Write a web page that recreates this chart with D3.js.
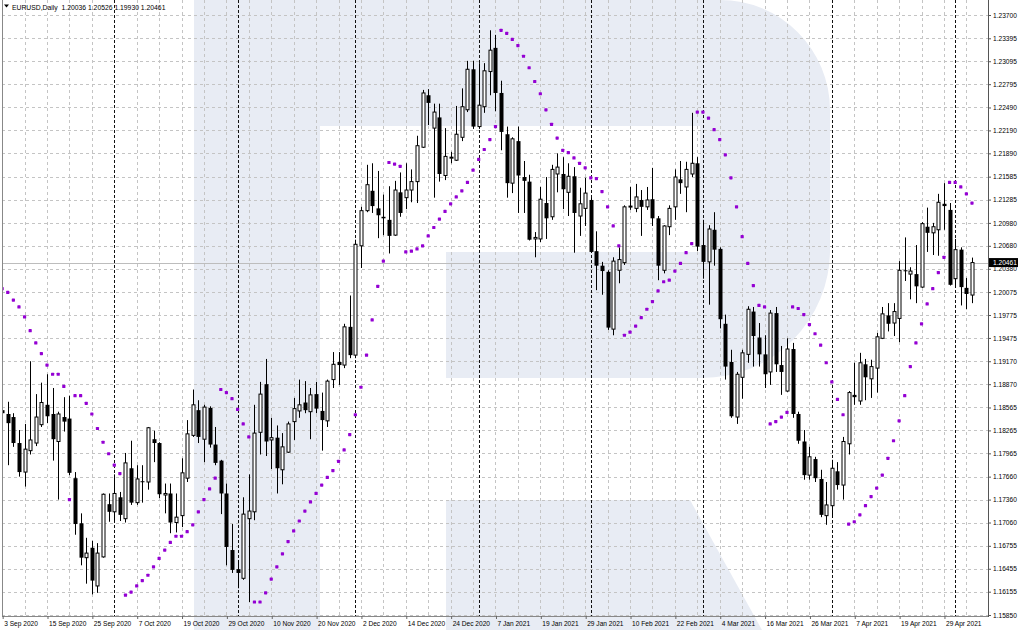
<!DOCTYPE html>
<html><head><meta charset="utf-8">
<script src="https://cdn.jsdelivr.net/npm/d3@7"></script>
<style>body{margin:0;background:#fff}svg{display:block}</style>
</head><body>
<svg id="c" width="1018" height="630"></svg>
<script>
const symbolTitle = "EURUSD,Daily";
const open = [
1.1853,1.1848,1.1844,1.1810,1.1772,1.1800,1.1810,1.1834,1.1860,1.1848,
1.1812,1.1844,1.1842,1.1764,1.1705,1.1660,1.1673,1.1623,1.1661,1.1730,
1.1720,1.1739,1.1711,1.1777,1.1732,1.1760,1.1759,1.1815,1.1810,1.1742,
1.1744,1.1706,1.1715,1.1764,1.1820,1.1853,1.1815,1.1856,1.1808,1.1787,
1.1744,1.1670,1.1645,1.1633,1.1711,1.1720,1.1824,1.1887,1.1814,1.1817,
1.1775,1.1798,1.1838,1.1852,1.1863,1.1851,1.1874,1.1852,1.1839,1.1893,
1.1916,1.1912,1.1962,1.1925,1.2068,1.2114,1.2140,1.2117,1.2106,1.2102,
1.2082,1.2138,1.2131,1.2141,1.2152,1.2197,1.2265,1.2222,1.2236,1.2160,
1.2183,1.2180,1.2210,1.2246,1.2299,1.2224,1.2250,1.2296,1.2327,1.2268,
1.2214,1.2150,1.2205,1.2158,1.2152,1.2077,1.2077,1.2124,1.2106,1.2162,
1.2162,1.2138,1.2159,1.2107,1.2117,1.2128,1.2061,1.2042,1.2034,1.1959,
1.2036,1.2046,1.2119,1.2117,1.2128,1.2119,1.2129,1.2104,1.2036,1.2093,
1.2119,1.2155,1.2145,1.2162,1.2176,1.2069,1.2047,1.2089,1.2064,1.1966,
1.1916,1.1844,1.1896,1.1926,1.1982,1.1948,1.1926,1.1903,1.1980,1.1912,
1.1878,1.1933,1.1848,1.1812,1.1768,1.1789,1.1763,1.1715,1.1728,1.1773,
1.1755,1.1809,1.1873,1.1865,1.1913,1.1894,1.1908,1.1947,1.1977,1.1967,
1.1973,1.2036,1.2031,1.2031,1.2014,1.2093,1.2085,1.2089,1.2123,1.2115,
1.2025,1.2063,1.2013,1.20036];
const high = [
1.1865,1.1864,1.1849,1.1827,1.1835,1.1917,1.1874,1.1889,1.1900,1.1882,
1.1851,1.1870,1.1872,1.1772,1.1718,1.1686,1.1682,1.1679,1.1744,1.1744,
1.1769,1.1746,1.1797,1.1813,1.1781,1.1781,1.1831,1.1826,1.1811,1.1757,
1.1757,1.1744,1.1790,1.1840,1.1880,1.1866,1.1860,1.1858,1.1831,1.1788,
1.1757,1.1704,1.1657,1.1739,1.1769,1.1860,1.1890,1.1920,1.1843,1.1833,
1.1823,1.1838,1.1869,1.1893,1.1891,1.1882,1.1890,1.1876,1.1893,1.1929,
1.1929,1.1966,1.2003,1.2076,1.2119,1.2174,1.2176,1.2166,1.2135,1.2146,
1.2153,1.2164,1.2176,1.2168,1.2212,1.2272,1.2273,1.2254,1.2254,1.2222,
1.2191,1.2251,1.2274,1.2310,1.2310,1.2307,1.2307,1.2350,1.2344,1.2284,
1.2224,1.2210,1.2224,1.2179,1.2161,1.2086,1.2145,1.2158,1.2174,1.2189,
1.2184,1.2176,1.2171,1.2144,1.2157,1.2131,1.2087,1.2047,1.2036,1.2053,
1.2066,1.2121,1.2145,1.2149,1.2141,1.2145,1.2170,1.2107,1.2095,1.2121,
1.2168,1.2179,1.2178,1.2242,1.2184,1.2102,1.2095,1.2112,1.2066,1.1978,
1.1932,1.1903,1.1932,1.1989,1.1988,1.1967,1.1951,1.1984,1.1988,1.1937,
1.1947,1.1941,1.1851,1.1827,1.1805,1.1792,1.1775,1.1759,1.1788,1.1785,
1.1818,1.1878,1.1915,1.1928,1.1920,1.1919,1.1954,1.1988,1.1993,1.1993,
1.2048,1.2079,1.2040,1.2069,1.2099,1.2118,1.2098,1.2136,1.2150,1.2124,
1.2077,1.2066,1.2026,1.20526];
const low = [
1.1788,1.1781,1.1805,1.1766,1.1753,1.1795,1.1806,1.1831,1.1836,1.1787,
1.1736,1.1825,1.1768,1.1690,1.1650,1.1626,1.1612,1.1614,1.1660,1.1707,
1.1707,1.1708,1.1706,1.1729,1.1729,1.1732,1.1749,1.1785,1.1738,1.1718,
1.1692,1.1693,1.1700,1.1759,1.1818,1.1810,1.1785,1.1804,1.1781,1.1717,
1.1650,1.1640,1.1620,1.1631,1.1602,1.1709,1.1795,1.1793,1.1776,1.1744,
1.1756,1.1797,1.1814,1.1843,1.1849,1.1815,1.1849,1.1800,1.1831,1.1882,
1.1886,1.1908,1.1921,1.1921,1.2039,1.2112,1.2111,1.2078,1.2082,1.2058,
1.2081,1.2106,1.2116,1.2125,1.2124,1.2196,1.2226,1.2131,1.2152,1.2154,
1.2176,1.2179,1.2205,1.2243,1.2221,1.2221,1.2242,1.2265,1.2244,1.2193,
1.2131,1.2137,1.2111,1.2111,1.2075,1.2053,1.2073,1.2077,1.2102,1.2138,
1.2116,1.2107,1.2059,1.2081,1.2094,1.2059,1.2010,1.2004,1.1958,1.1951,
1.2019,1.2043,1.2115,1.2112,1.2081,1.2115,1.2094,1.2023,1.2032,1.2082,
1.2102,1.2136,1.2112,1.2158,1.2061,1.2025,1.1991,1.2042,1.1960,1.1893,
1.1843,1.1835,1.1868,1.1915,1.1910,1.1910,1.1882,1.1886,1.1903,1.1873,
1.1877,1.1843,1.1809,1.1762,1.1762,1.1759,1.1713,1.1703,1.1712,1.1749,
1.1736,1.1795,1.1860,1.1860,1.1866,1.1869,1.1876,1.1946,1.1956,1.1950,
1.1942,1.2022,1.1998,1.1993,1.2013,1.2060,1.2056,1.2055,1.2089,1.2016,
1.2013,1.1990,1.1985,1.19930];
const close = [
1.1849,1.1836,1.1810,1.1772,1.1802,1.1814,1.1844,1.1863,1.1845,1.1815,
1.1848,1.1838,1.1771,1.1704,1.1660,1.1666,1.1630,1.1666,1.1743,1.1720,
1.1744,1.1716,1.1784,1.1732,1.1763,1.1759,1.1830,1.1810,1.1743,1.1744,
1.1706,1.1713,1.1771,1.1822,1.1860,1.1818,1.1857,1.1808,1.1784,1.1744,
1.1674,1.1644,1.1640,1.1717,1.1721,1.1823,1.1874,1.1812,1.1817,1.1777,
1.1805,1.1835,1.1855,1.1860,1.1853,1.1873,1.1855,1.1840,1.1891,1.1913,
1.1912,1.1962,1.1925,1.2070,1.2114,1.2148,1.2120,1.2108,1.2104,1.2081,
1.2141,1.2111,1.2141,1.2152,1.2199,1.2268,1.2255,1.2243,1.2162,1.2185,
1.2184,1.2214,1.2250,1.2299,1.2224,1.2252,1.2297,1.2324,1.2268,1.2217,
1.2150,1.2208,1.2160,1.2153,1.2076,1.2079,1.2129,1.2104,1.2168,1.2171,
1.2142,1.2159,1.2111,1.2123,1.2137,1.2060,1.2042,1.2035,1.1961,1.2048,
1.2050,1.2119,1.2120,1.2132,1.2119,1.2128,1.2104,1.2042,1.2094,1.2117,
1.2158,1.2150,1.2168,1.2176,1.2067,1.2047,1.2090,1.2063,1.1972,1.1910,
1.1845,1.1900,1.1928,1.1985,1.1950,1.1926,1.1900,1.1980,1.1913,1.1903,
1.1933,1.1848,1.1813,1.1768,1.1792,1.1764,1.1716,1.1729,1.1777,1.1755,
1.1812,1.1876,1.1870,1.1915,1.1896,1.1910,1.1949,1.1979,1.1966,1.1982,
1.2036,1.2035,1.2035,1.2015,1.2097,1.2085,1.2093,1.2125,1.2120,1.2017,
1.2063,1.2014,1.2005,1.20461];
const sar = [
1.2012,1.2007,1.1997,1.1988,1.1975,1.1957,1.1941,1.1927,1.1912,1.1900,
1.1900,1.1884,1.1736,1.1872,1.1872,1.1862,1.1848,1.1829,1.1811,1.1796,
1.1781,1.1770,1.1611,1.1615,1.1623,1.1630,1.1637,1.1648,1.1659,1.1670,
1.1680,1.1688,1.1688,1.1694,1.1703,1.1720,1.1736,1.1750,1.1764,1.1880,
1.1876,1.1868,1.1854,1.1835,1.1818,1.1602,1.1602,1.1614,1.1632,1.1648,
1.1665,1.1681,1.1695,1.1708,1.1721,1.1733,1.1744,1.1755,1.1765,1.1774,
1.1786,1.1801,1.1821,1.1847,1.1883,1.1925,1.1971,1.2015,1.2048,1.2177,
1.2175,1.2172,1.2060,1.2061,1.2064,1.2068,1.2081,1.2092,1.2103,1.2113,
1.2123,1.2132,1.2140,1.2151,1.2167,1.2181,1.2194,1.2207,1.2224,1.2350,
1.2346,1.2338,1.2330,1.2316,1.2301,1.2283,1.2267,1.2246,1.2227,1.2209,
1.2193,1.2190,1.2183,1.2176,1.2170,1.2157,1.2156,1.2139,1.2119,1.2094,
1.2068,1.1951,1.1955,1.1963,1.1974,1.1985,1.1995,1.2009,1.2021,1.2023,
1.2035,1.2045,1.2059,1.2071,1.2243,1.2243,1.2235,1.2220,1.2207,1.2187,
1.2157,1.2119,1.2080,1.2045,1.2016,1.1990,1.1988,1.1835,1.1838,1.1844,
1.1850,1.1988,1.1986,1.1978,1.1965,1.1953,1.1938,1.1915,1.1890,1.1867,
1.1847,1.1704,1.1707,1.1716,1.1728,1.1740,1.1751,1.1768,1.1790,1.1813,
1.1839,1.1872,1.1910,1.1941,1.1966,1.1992,1.2012,1.2033,1.2053,1.2151,
1.2151,1.2145,1.2136,1.2124];
const priceTicks = [1.23700,1.23395,1.23095,1.22795,1.22490,1.22190,1.21890,1.21585,1.21285,
1.20980,1.20680,1.20380,1.20075,1.19775,1.19475,1.19170,1.18870,1.18565,1.18265,1.17965,
1.17660,1.17360,1.17060,1.16755,1.16455,1.16155,1.15850];
const dateLabels = ["3 Sep 2020","15 Sep 2020","25 Sep 2020","7 Oct 2020","19 Oct 2020","29 Oct 2020",
"10 Nov 2020","20 Nov 2020","2 Dec 2020","14 Dec 2020","24 Dec 2020","7 Jan 2021","19 Jan 2021",
"29 Jan 2021","10 Feb 2021","22 Feb 2021","4 Mar 2021","16 Mar 2021","26 Mar 2021","7 Apr 2021",
"19 Apr 2021","29 Apr 2021"];
const dateTickIdx = [0,8,16,24,32,40,48,56,64,72,80,88,96,104,112,120,128,136,144,152,160,168];
const monthSepIdx = [20,42,63,85,105,125,148,170];

const N = close.length;
const svg = d3.select("#c");
const L = 2, R = 988, T = 0, B = 616;
const FONT = "'Liberation Sans', Arial, sans-serif";
const x = d3.scaleLinear().domain([0, N - 1]).range([2.15, 971.99]);
const y = d3.scaleLinear().domain([1.1585, 1.2370]).range([615, 15]);
const px = i => Math.round(x(i)) + 0.5;
const py = v => Math.round(y(v)) + 0.5;

// watermark logo
svg.append("g").attr("fill", "#e8ecf4").selectAll("path").data([
  "M194,0H320V630H194Z",
  "M320,0H720A110,110 0 0 1 830,110V250A128,128 0 0 1 702,378H446V252H700V126H320Z",
  "M446,500H690L762,630H446Z"
]).join("path").attr("d", d => d);

svg.append("defs").append("clipPath").attr("id", "plot")
  .append("rect").attr("x", L).attr("y", T).attr("width", R - L).attr("height", B - T);

const grid = svg.append("g").attr("stroke", "#c4c4c4").attr("stroke-dasharray", "3,3").attr("stroke-width", 1);
grid.selectAll("line.h").data(priceTicks).join("line")
  .attr("x1", L).attr("x2", R).attr("y1", d => py(d)).attr("y2", d => py(d));
grid.selectAll("line.v").data(d3.range(4, N, 4).filter(i => !monthSepIdx.includes(i))).join("line")
  .attr("y1", T).attr("y2", B).attr("x1", d => px(d)).attr("x2", d => px(d));

svg.append("g").attr("stroke", "#111").attr("stroke-dasharray", "3,2").attr("stroke-width", 1)
  .selectAll("line").data(monthSepIdx).join("line")
  .attr("y1", T).attr("y2", B).attr("x1", d => px(d)).attr("x2", d => px(d));

// current price line
svg.append("line").attr("x1", L).attr("x2", R)
  .attr("y1", py(close[N - 1])).attr("y2", py(close[N - 1]))
  .attr("stroke", "#bdbdbd").attr("stroke-width", 1);

const plot = svg.append("g").attr("clip-path", "url(#plot)");
const idx = d3.range(N);
plot.append("g").attr("stroke", "#000").attr("stroke-width", 1)
  .selectAll("line").data(idx).join("line")
  .attr("x1", i => px(i)).attr("x2", i => px(i))
  .attr("y1", i => y(high[i])).attr("y2", i => y(low[i]));
plot.append("g").selectAll("rect").data(idx).join("rect")
  .attr("x", i => close[i] >= open[i] ? px(i) - 1.5 : px(i) - 2)
  .attr("width", i => close[i] >= open[i] ? 3 : 4)
  .attr("y", i => y(Math.max(open[i], close[i])))
  .attr("height", i => Math.max(1, Math.abs(y(open[i]) - y(close[i]))))
  .attr("fill", i => close[i] >= open[i] ? "#fff" : "#000")
  .attr("stroke", i => close[i] >= open[i] ? "#000" : "none")
  .attr("stroke-width", 1);

plot.append("g").attr("fill", "#9400d3").selectAll("rect").data(idx).join("rect")
  .attr("x", i => x(i) - 1.6).attr("y", i => y(sar[i]) - 1.6)
  .attr("width", 3.2).attr("height", 3.2).attr("rx", 0.6);

// frame
svg.append("line").attr("x1", L + 0.5).attr("x2", L + 0.5).attr("y1", 0).attr("y2", B).attr("stroke", "#888");
svg.append("line").attr("x1", L).attr("x2", R).attr("y1", B + 0.5).attr("y2", B + 0.5).attr("stroke", "#888");
svg.append("line").attr("x1", R + 0.5).attr("x2", R + 0.5).attr("y1", 0).attr("y2", B + 1).attr("stroke", "#555");

// price axis
const ya = svg.append("g").attr("transform", `translate(${R},0)`)
  .call(d3.axisRight(y).tickValues(priceTicks).tickFormat(d3.format(".5f")).tickSize(3).tickPadding(2));
ya.select(".domain").remove();
ya.selectAll("line").attr("stroke", "#555");
ya.selectAll("text").attr("font-family", FONT).attr("font-size", 6.6).attr("fill", "#000");

// date axis
const xa = svg.append("g").attr("transform", `translate(0,${B})`)
  .call(d3.axisBottom(x).tickValues(dateTickIdx).tickFormat((d, k) => dateLabels[k]).tickSize(3));
xa.select(".domain").remove();
xa.selectAll("line").attr("stroke", "#666").attr("transform", "translate(0.5,0)");
xa.selectAll("text").attr("font-family", FONT).attr("font-size", 6.6).attr("fill", "#000")
  .attr("text-anchor", "start").attr("x", 1.5).attr("y", 5);

// last price box
const lp = close[N - 1];
svg.append("rect").attr("x", R + 1).attr("y", y(lp) - 4.5).attr("width", 1018 - R - 1).attr("height", 9).attr("fill", "#000");
svg.append("text").attr("x", R + 5).attr("y", y(lp) + 2.4).attr("fill", "#fff")
  .attr("font-family", FONT).attr("font-size", 6.6).text(lp.toFixed(5));

// title
svg.append("path").attr("d", "M4,4.5H9L6.5,7.5Z").attr("fill", "#000");
const f5 = d3.format(".5f");
svg.append("text").attr("x", 12).attr("y", 9.5).attr("font-family", FONT).attr("font-size", 6.8).attr("fill", "#000")
  .attr("xml:space", "preserve")
  .text(`${symbolTitle}  ${f5(open[N-1])} ${f5(high[N-1])} ${f5(low[N-1])} ${f5(close[N-1])}`);
</script>
</body></html>
